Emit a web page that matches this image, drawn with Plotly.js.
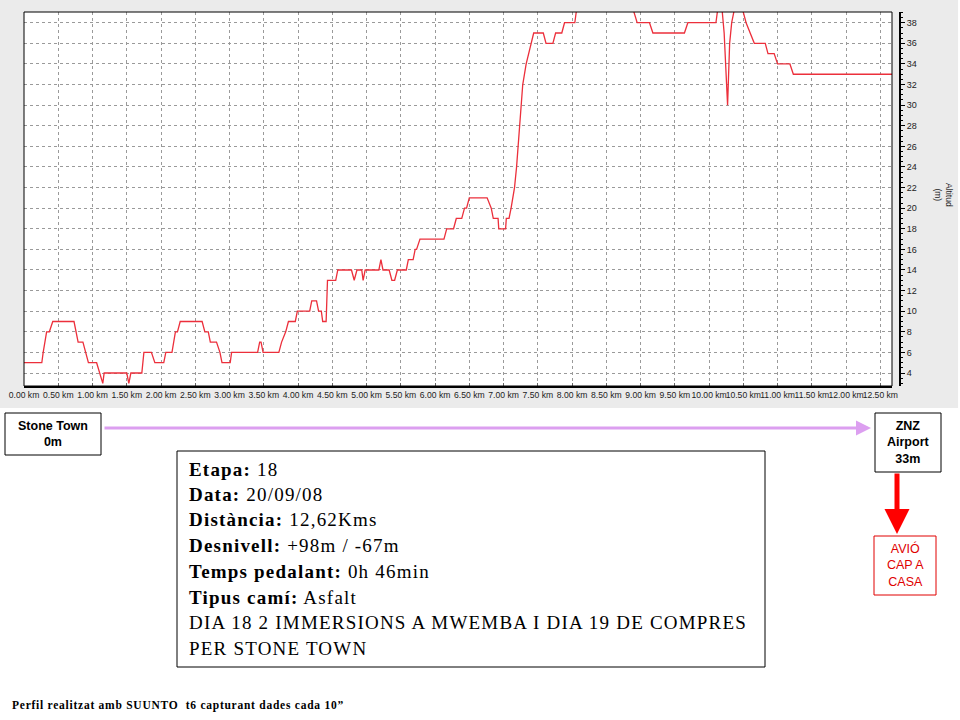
<!DOCTYPE html>
<html>
<head>
<meta charset="utf-8">
<script src="https://cdn.plot.ly/plotly-3.0.1.min.js"></script>
<style>html,body{margin:0;padding:0;background:#fff}#chart{width:960px;height:720px}</style>
</head>
<body>
<div id="chart"></div>
<script>
// Distance along the route (km)
const distanceKm = [
  0, 0.26, 0.28, 0.33, 0.37, 0.42, 0.73, 0.79, 0.86, 0.90, 0.94, 1.06, 1.10, 1.15, 1.17, 1.50, 1.53, 1.56,
  1.72, 1.75, 1.86, 1.91, 2.04, 2.07, 2.16, 2.21, 2.24, 2.28, 2.60, 2.64, 2.69, 2.72, 2.81, 2.86, 2.89,
  3.01, 3.03, 3.41, 3.44, 3.46, 3.49, 3.72, 3.76, 3.82, 3.86, 3.96, 3.99,
  4.17, 4.20, 4.27, 4.30, 4.34, 4.36, 4.41, 4.43, 4.55, 4.58, 4.78, 4.82, 4.86, 4.93, 4.95, 4.98,
  5.18, 5.21, 5.24, 5.33, 5.37, 5.41, 5.45, 5.58, 5.61, 5.68, 5.71, 5.73, 5.78, 6.13, 6.17,
  6.27, 6.31, 6.39, 6.43, 6.46, 6.50,
  6.76, 6.82, 6.85, 6.92, 6.93, 7.03, 7.04, 7.08, 7.11, 7.16, 7.19, 7.23, 7.28, 7.33, 7.40, 7.44,
  7.58, 7.62, 7.72, 7.76, 7.85, 7.89, 8.04, 8.08, 8.86, 8.90, 8.95, 9.13, 9.18, 9.64, 9.69,
  10.10, 10.14, 10.18, 10.22, 10.27, 10.30, 10.33, 10.39, 10.46, 10.54, 10.66, 10.82, 10.86,
  10.95, 11.00, 11.18, 11.23, 12.67
];
// Altitude (m)
const altitudeM = [
  5, 5, 6, 8, 8, 9, 9, 7, 7, 6, 5, 5, 4, 3, 4, 4, 3, 4,
  4, 6, 6, 5, 5, 6, 6, 8, 8, 9, 9, 8, 8, 7, 7, 6, 5,
  5, 6, 6, 7, 7, 6, 6, 7, 8, 9, 9, 10,
  10, 11, 11, 10, 10, 9, 9, 13, 13, 14, 14, 13, 14, 14, 13, 14,
  14, 15, 14, 14, 13, 13, 14, 14, 15, 15, 16, 16, 17, 17, 18,
  18, 19, 19, 20, 20, 21,
  21, 20, 19, 19, 18, 18, 19, 19, 20, 22, 24, 28, 32, 34, 36, 37,
  37, 36, 36, 37, 37, 38, 38, 40, 40, 39, 38, 38, 37, 37, 38,
  38, 40, 40, 37, 30, 36, 38, 40, 40, 38, 36, 36, 35,
  35, 34, 34, 33, 33
];
const tickKm = [0, 0.5, 1, 1.5, 2, 2.5, 3, 3.5, 4, 4.5, 5, 5.5, 6, 6.5, 7, 7.5, 8, 8.5, 9, 9.5, 10, 10.5, 11, 11.5, 12, 12.5];
const tickKmLabels = ['0.00 km','0.50 km','1.00 km','1.50 km','2.00 km','2.50 km','3.00 km','3.50 km','4.00 km','4.50 km',
  '5.00 km','5.50 km','6.00 km','6.50 km','7.00 km','7.50 km','8.00 km','8.50 km','9.00 km','9.50 km',
  '10.00 km','10.50 km','11.00 km','11.50 km','12.00 km','12.50 km'];

const infoLines = [
  '<b>Etapa:</b> 18',
  '<b>Data:</b> 20/09/08',
  '<b>Distància:</b> 12,62Kms',
  '<b>Desnivell:</b> +98m / -67m',
  '<b>Temps pedalant:</b> 0h 46min',
  '<b>Tipus camí:</b> Asfalt',
  'DIA 18 2 IMMERSIONS A MWEMBA I DIA 19 DE COMPRES',
  'PER STONE TOWN'
];
const infoLineY = [469, 494, 519, 545, 571, 597, 622, 648];

const W = 960, H = 720;
const px = v => v / W;
const py = v => 1 - v / H;
const sans = 'Liberation Sans, Arial, sans-serif';
const serif = 'Liberation Serif, Times New Roman, serif';
const spaced = (t, s) => '<span style="letter-spacing:' + s + 'px">' + t + '</span>';

const trace = {
  x: distanceKm, y: altitudeM, type: 'scatter', mode: 'lines',
  line: {color: '#ec2f3b', width: 1.3}, hoverinfo: 'skip'
};

const shapes = [
  {type: 'rect', xref: 'paper', yref: 'paper', x0: 0, x1: 0.998, y0: py(408), y1: 1,
   fillcolor: '#ebebeb', line: {width: 0}, layer: 'below'},
  {type: 'rect', xref: 'paper', yref: 'paper', x0: px(24), x1: px(892), y0: py(386), y1: py(12),
   fillcolor: '#ffffff', line: {width: 0}, layer: 'below'},
  {type: 'rect', xref: 'paper', yref: 'paper', x0: px(24), x1: px(892), y0: py(386), y1: py(12),
   line: {color: '#000', width: 1}, layer: 'above'},
  {type: 'rect', xref: 'paper', yref: 'paper', x0: px(5), x1: px(101), y0: py(455), y1: py(413),
   line: {color: '#000', width: 1}, fillcolor: '#fff'},
  {type: 'rect', xref: 'paper', yref: 'paper', x0: px(875), x1: px(941), y0: py(472), y1: py(413),
   line: {color: '#000', width: 1}, fillcolor: '#fff'},
  {type: 'rect', xref: 'paper', yref: 'paper', x0: px(874), x1: px(936), y0: py(595), y1: py(536),
   line: {color: '#e00000', width: 1}, fillcolor: '#fff'},
  {type: 'rect', xref: 'paper', yref: 'paper', x0: px(177), x1: px(765), y0: py(667), y1: py(451),
   line: {color: '#000', width: 1}, fillcolor: '#fff'}
];

const annotations = [
  {xref: 'paper', yref: 'paper', x: px(943), y: py(195), xanchor: 'center', yanchor: 'middle',
   text: 'Altitud<br>(m)', textangle: 90,
   showarrow: false, font: {family: sans, size: 8.5, color: '#222'}},
  {xref: 'paper', yref: 'paper', x: px(53), y: py(434), xanchor: 'center', yanchor: 'middle',
   text: '<b>Stone Town<br>0m</b>',
   showarrow: false, font: {family: sans, size: 12.5, color: '#000'}},
  {xref: 'paper', yref: 'paper', x: px(908), y: py(442), xanchor: 'center', yanchor: 'middle',
   text: '<b>ZNZ<br>Airport<br>33m</b>',
   showarrow: false, font: {family: sans, size: 12.5, color: '#000'}},
  {xref: 'paper', yref: 'paper', x: px(905), y: py(565), xanchor: 'center', yanchor: 'middle',
   text: 'AVIÓ<br>CAP A<br>CASA',
   showarrow: false, font: {family: sans, size: 12.5, color: '#e00000'}},
  {xref: 'paper', yref: 'paper', x: px(871), y: py(428), ax: -768, ay: 0, text: '',
   showarrow: true, arrowhead: 2, arrowsize: 1, arrowwidth: 3, arrowcolor: '#dc9ff0'},
  {xref: 'paper', yref: 'paper', x: px(897), y: py(534), ax: 0, ay: -62, text: '',
   showarrow: true, arrowhead: 2, arrowsize: 1, arrowwidth: 5, arrowcolor: '#ff0000'},
  {xref: 'paper', yref: 'paper', x: px(10), y: py(705), xanchor: 'left', yanchor: 'middle',
   text: '<b>' + spaced('Perfil realitzat amb SUUNTO\u00a0\u00a0t6 capturant dades cada 10”', 0.75) + '</b>',
   showarrow: false, font: {family: serif, size: 11.5, color: '#000'}}
];
infoLines.forEach((t, i) => {
  annotations.push({xref: 'paper', yref: 'paper', x: px(187), y: py(infoLineY[i]), xanchor: 'left', yanchor: 'middle',
    text: spaced(t, 1.2), showarrow: false, font: {family: serif, size: 19, color: '#000'}});
});

const layout = {
  width: W, height: H, margin: {l: 0, r: 0, t: 0, b: 0},
  paper_bgcolor: '#fff', plot_bgcolor: '#fff', showlegend: false,
  xaxis: {
    domain: [px(24), px(892)], range: [0, 12.67], tickvals: tickKm, ticktext: tickKmLabels, tickangle: 0,
    tickfont: {family: sans, size: 8.6, color: '#222'}, showgrid: true, gridcolor: '#9a9a9a', griddash: 'dot',
    gridwidth: 1, showline: true, linecolor: '#000', linewidth: 2, ticks: 'inside', ticklen: 3,
    tickcolor: '#666', zeroline: false, fixedrange: true
  },
  yaxis: {
    domain: [py(386), py(12)], range: [2.74, 39.04], anchor: 'free', position: px(900), side: 'right',
    tick0: 0, dtick: 2, tickfont: {family: sans, size: 9, color: '#222'}, ticks: 'outside', ticklen: 4,
    tickcolor: '#000', showline: true, linecolor: '#000', linewidth: 2, showgrid: true,
    gridcolor: '#9a9a9a', griddash: 'dot', gridwidth: 1, zeroline: false, fixedrange: true,
    minor: {dtick: 0.5, ticks: 'outside', ticklen: 2, tickcolor: '#000', showgrid: false}
  },
  shapes: shapes,
  annotations: annotations
};

Plotly.newPlot('chart', [trace], layout, {staticPlot: true, displayModeBar: false});
</script>
</body>
</html>
